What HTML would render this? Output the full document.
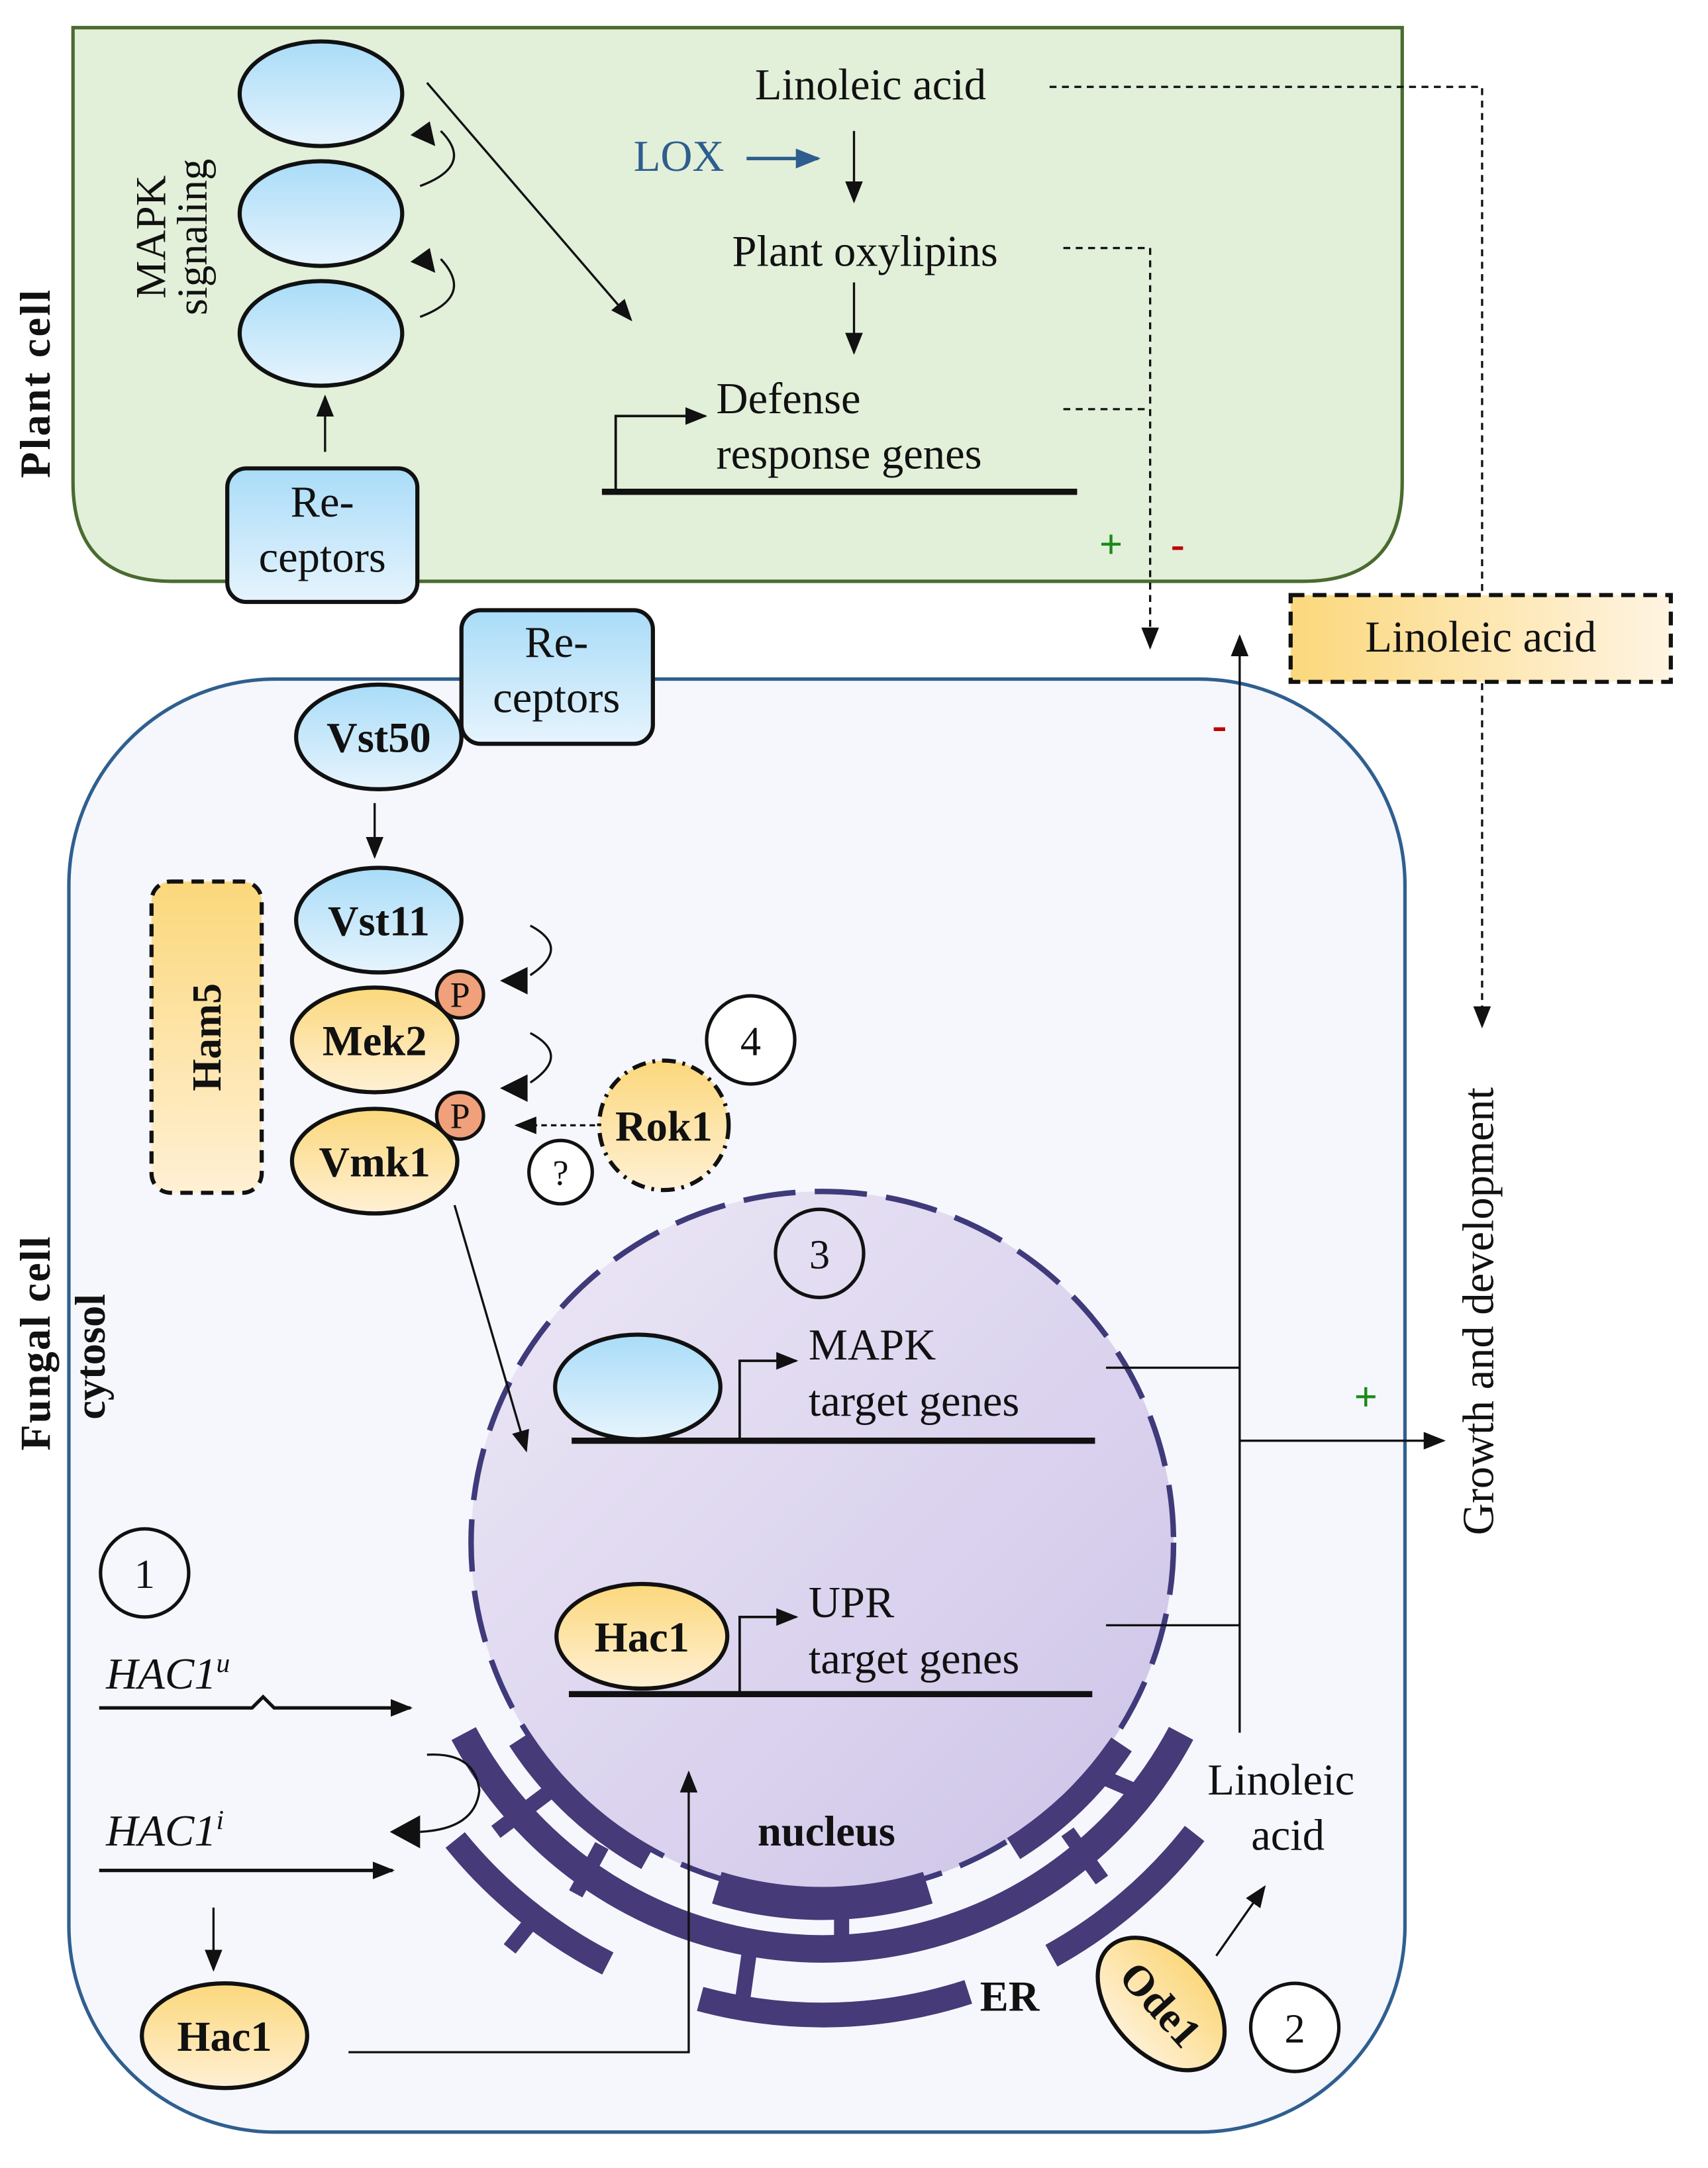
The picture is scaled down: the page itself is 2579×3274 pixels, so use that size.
<!DOCTYPE html>
<html><head><meta charset="utf-8"><style>
html,body{margin:0;padding:0;background:#fff;}
svg{display:block;}
text{font-family:"Liberation Serif",serif;fill:#111;}
.b{font-weight:bold;}
</style></head><body>
<svg width="2579" height="3274" viewBox="0 0 1240 1574" xmlns="http://www.w3.org/2000/svg">
<defs>
<linearGradient id="bl" x1="0" y1="0" x2="0" y2="1"><stop offset="0" stop-color="#a9dcf8"/><stop offset="1" stop-color="#e6f4fd"/></linearGradient>
<linearGradient id="or" x1="0" y1="0" x2="0" y2="1"><stop offset="0" stop-color="#fbd87c"/><stop offset="1" stop-color="#fff0d4"/></linearGradient>
<linearGradient id="orh" x1="0" y1="0" x2="1" y2="0"><stop offset="0" stop-color="#fbd87c"/><stop offset="1" stop-color="#fff4e2"/></linearGradient>
<linearGradient id="nu" x1="0" y1="0" x2="1" y2="1"><stop offset="0" stop-color="#ede8f6"/><stop offset="1" stop-color="#cdc3e8"/></linearGradient>
<marker id="ar2" viewBox="0 0 10 10" refX="9" refY="5" markerWidth="16" markerHeight="16" orient="auto" markerUnits="userSpaceOnUse"><path d="M0,1 L10,5 L0,9z" fill="#111"/></marker>
<marker id="arb" viewBox="0 0 10 10" refX="9" refY="5" markerWidth="18" markerHeight="18" orient="auto" markerUnits="userSpaceOnUse"><path d="M0,1 L10,5 L0,9z" fill="#2e5e8e"/></marker>
</defs>

<path d="M53,20 L1018,20 L1018,350 Q1018,422 946,422 L125,422 Q53,422 53,350 Z" fill="#e2efd9" stroke="#4a6b30" stroke-width="2.5"/>
<text class="b" font-size="31" transform="translate(36,278) rotate(-90)" text-anchor="middle" letter-spacing="1.5">Plant cell</text>
<text font-size="31" transform="translate(120,172) rotate(-90)" text-anchor="middle">MAPK</text>
<text font-size="31" transform="translate(150,172) rotate(-90)" text-anchor="middle">signaling</text>
<g stroke="#111" stroke-width="3" fill="url(#bl)">
<ellipse cx="233" cy="68" rx="59" ry="38"/>
<ellipse cx="233" cy="155" rx="59" ry="38"/>
<ellipse cx="233" cy="242" rx="59" ry="38"/>
</g>
<g fill="none" stroke="#111" stroke-width="1.6">
<path d="M305,135 Q345,120 320,95" /><path d="M305,230 Q345,215 320,188"/>
<line x1="310" y1="60" x2="458" y2="232" marker-end="url(#ar2)"/>
<line x1="236" y1="328" x2="236" y2="288" marker-end="url(#ar2)"/>
<line x1="620" y1="95" x2="620" y2="146" marker-end="url(#ar2)"/>
<line x1="620" y1="205" x2="620" y2="256" marker-end="url(#ar2)"/>
</g>
<path d="M298,98 l14,-10 l4,18z" fill="#111"/><path d="M298,190 l14,-10 l4,18z" fill="#111"/>
<rect x="165" y="340" width="138" height="97" rx="14" fill="url(#bl)" stroke="#111" stroke-width="3"/>
<text font-size="32" x="234" y="375" text-anchor="middle">Re-</text>
<text font-size="32" x="234" y="415" text-anchor="middle">ceptors</text>
<text font-size="32" x="632" y="72" text-anchor="middle">Linoleic acid</text>
<text font-size="32" x="460" y="124" style="fill:#2e5e8e">LOX</text>
<line x1="542" y1="115" x2="594" y2="115" stroke="#2e5e8e" stroke-width="2.5" marker-end="url(#arb)"/>
<text font-size="32" x="628" y="193" text-anchor="middle">Plant oxylipins</text>
<text font-size="32" x="520" y="300">Defense</text>
<text font-size="32" x="520" y="340">response genes</text>
<line x1="437" y1="357" x2="782" y2="357" stroke="#111" stroke-width="4.5"/>
<path d="M447,357 L447,302 L512,302" fill="none" stroke="#111" stroke-width="1.8" marker-end="url(#ar2)"/>
<g fill="none" stroke="#111" stroke-width="1.6" stroke-dasharray="5,4">
<path d="M762,63 L1076,63 L1076,745" marker-end="url(#ar2)"/>
<path d="M772,180 L835,180 L835,470" marker-end="url(#ar2)"/>
<path d="M772,297 L835,297"/>
</g>
<text font-size="30" x="798" y="405" style="fill:#1a8a1a" class="b">+</text>
<text font-size="30" x="850" y="405" style="fill:#c00000" class="b">-</text>

<rect x="937" y="432" width="276" height="63" fill="url(#orh)" stroke="#111" stroke-width="3" stroke-dasharray="10,6"/>
<text font-size="32" x="1075" y="473" text-anchor="middle">Linoleic acid</text>

<rect x="50" y="493" width="970" height="1055" rx="150" fill="#f5f7fc" stroke="#2f5f8f" stroke-width="2.5"/>
<text class="b" font-size="31" transform="translate(36,975) rotate(-90)" text-anchor="middle" letter-spacing="1">Fungal cell</text>
<text class="b" font-size="31" transform="translate(76,985) rotate(-90)" text-anchor="middle">cytosol</text>
<text font-size="32" x="880" y="537" style="fill:#c00000" class="b">-</text>

<rect x="335" y="443" width="139" height="97" rx="14" fill="url(#bl)" stroke="#111" stroke-width="3"/>
<text font-size="32" x="404" y="477" text-anchor="middle">Re-</text>
<text font-size="32" x="404" y="517" text-anchor="middle">ceptors</text>

<rect x="110" y="640" width="80" height="226" rx="14" fill="url(#or)" stroke="#111" stroke-width="3" stroke-dasharray="9,6"/>
<text class="b" font-size="30" transform="translate(160,753) rotate(-90)" text-anchor="middle">Ham5</text>

<ellipse cx="275" cy="535" rx="60" ry="38" fill="url(#bl)" stroke="#111" stroke-width="3"/>
<text class="b" font-size="31" x="275" y="546" text-anchor="middle">Vst50</text>
<line x1="272" y1="583" x2="272" y2="622" stroke="#111" stroke-width="1.6" marker-end="url(#ar2)"/>
<ellipse cx="275" cy="668" rx="60" ry="38" fill="url(#bl)" stroke="#111" stroke-width="3"/>
<text class="b" font-size="31" x="275" y="679" text-anchor="middle">Vst11</text>
<ellipse cx="272" cy="755" rx="60" ry="38" fill="url(#or)" stroke="#111" stroke-width="3"/>
<text class="b" font-size="31" x="272" y="766" text-anchor="middle">Mek2</text>
<ellipse cx="272" cy="843" rx="60" ry="38" fill="url(#or)" stroke="#111" stroke-width="3"/>
<text class="b" font-size="31" x="272" y="854" text-anchor="middle">Vmk1</text>
<circle cx="334" cy="722" r="17" fill="#f0a07a" stroke="#111" stroke-width="2.5"/>
<text font-size="26" x="334" y="731" text-anchor="middle">P</text>
<circle cx="334" cy="810" r="17" fill="#f0a07a" stroke="#111" stroke-width="2.5"/>
<text font-size="26" x="334" y="819" text-anchor="middle">P</text>
<path d="M385,672 Q415,688 385,708" fill="none" stroke="#111" stroke-width="1.6"/>
<path d="M363,712 l20,-10 l0,20z" fill="#111"/>
<path d="M385,750 Q415,766 385,786" fill="none" stroke="#111" stroke-width="1.6"/>
<path d="M363,790 l20,-10 l0,20z" fill="#111"/>
<line x1="432" y1="817" x2="375" y2="817" stroke="#111" stroke-width="1.6" stroke-dasharray="4,3" marker-end="url(#ar2)"/>
<circle cx="482" cy="817" r="47" fill="url(#or)" stroke="#111" stroke-width="3" stroke-dasharray="10,5,2,5"/>
<text class="b" font-size="31" x="482" y="828" text-anchor="middle">Rok1</text>
<circle cx="545" cy="755" r="32" fill="#fff" stroke="#111" stroke-width="2.5"/>
<text font-size="30" x="545" y="766" text-anchor="middle">4</text>
<circle cx="407" cy="851" r="23" fill="#fff" stroke="#111" stroke-width="2.5"/>
<text font-size="26" x="407" y="860" text-anchor="middle">?</text>

<circle cx="597" cy="1120" r="255" fill="url(#nu)" stroke="#3f3a7a" stroke-width="4" stroke-dasharray="38,14"/>
<circle cx="595" cy="910" r="32" fill="none" stroke="#111" stroke-width="2.5"/>
<text font-size="30" x="595" y="921" text-anchor="middle">3</text>
<line x1="330" y1="875" x2="382" y2="1053" stroke="#111" stroke-width="1.6" marker-end="url(#ar2)"/>

<g fill="none" stroke="#463a78">
<circle cx="597" cy="1120" r="295" stroke-width="20" pathLength="360" stroke-dasharray="124 360" transform="rotate(28 597 1120)"/>
<circle cx="597" cy="1120" r="343" stroke-width="18" pathLength="360" stroke-dasharray="23 360" transform="rotate(38 597 1120)"/>
<circle cx="597" cy="1120" r="343" stroke-width="18" pathLength="360" stroke-dasharray="33 360" transform="rotate(72 597 1120)"/>
<circle cx="597" cy="1120" r="343" stroke-width="18" pathLength="360" stroke-dasharray="24 360" transform="rotate(117 597 1120)"/>
<circle cx="597" cy="1120" r="262" stroke-width="18" pathLength="360" stroke-dasharray="28 360" transform="rotate(119 597 1120)"/>
<circle cx="597" cy="1120" r="262" stroke-width="24" pathLength="360" stroke-dasharray="34 360" transform="rotate(73 597 1120)"/>
<circle cx="597" cy="1120" r="262" stroke-width="18" pathLength="360" stroke-dasharray="24 360" transform="rotate(34 597 1120)"/>
</g>
<g stroke="#463a78" stroke-width="11">
<line x1="611" y1="1380" x2="611" y2="1415"/>
<line x1="545" y1="1410" x2="538" y2="1460"/>
<line x1="437" y1="1340" x2="418" y2="1375"/>
<line x1="400" y1="1300" x2="360" y2="1330"/>
<line x1="390" y1="1390" x2="370" y2="1415"/>
<line x1="775" y1="1330" x2="800" y2="1365"/>
<line x1="800" y1="1290" x2="835" y2="1305"/>
</g>
<text class="b" font-size="31" x="600" y="1340" text-anchor="middle">nucleus</text>
<text class="b" font-size="31" x="733" y="1460" text-anchor="middle">ER</text>

<ellipse cx="463" cy="1007" rx="60" ry="38" fill="url(#bl)" stroke="#111" stroke-width="3"/>
<line x1="415" y1="1046" x2="795" y2="1046" stroke="#111" stroke-width="4.5"/>
<path d="M537,1046 L537,988 L578,988" fill="none" stroke="#111" stroke-width="1.8" marker-end="url(#ar2)"/>
<text font-size="32" x="587" y="987">MAPK</text>
<text font-size="32" x="587" y="1028">target genes</text>
<ellipse cx="466" cy="1188" rx="62" ry="38" fill="url(#or)" stroke="#111" stroke-width="3"/>
<text class="b" font-size="31" x="466" y="1199" text-anchor="middle">Hac1</text>
<line x1="413" y1="1230" x2="793" y2="1230" stroke="#111" stroke-width="4.5"/>
<path d="M537,1230 L537,1174 L578,1174" fill="none" stroke="#111" stroke-width="1.8" marker-end="url(#ar2)"/>
<text font-size="32" x="587" y="1174">UPR</text>
<text font-size="32" x="587" y="1215">target genes</text>

<g fill="none" stroke="#111" stroke-width="1.6">
<path d="M803,993 L900,993"/><path d="M803,1180 L900,1180"/>
<line x1="900" y1="1258" x2="900" y2="462" marker-end="url(#ar2)"/>
<line x1="900" y1="1046" x2="1048" y2="1046" marker-end="url(#ar2)"/>
</g>
<text font-size="30" x="983" y="1024" style="fill:#1a8a1a" class="b">+</text>
<text font-size="32" transform="translate(1084,952) rotate(-90)" text-anchor="middle">Growth and development</text>

<text font-size="32" x="930" y="1303" text-anchor="middle">Linoleic</text>
<text font-size="32" x="935" y="1343" text-anchor="middle">acid</text>
<line x1="883" y1="1420" x2="918" y2="1370" stroke="#111" stroke-width="1.6" marker-end="url(#ar2)"/>
<g transform="translate(843,1455) rotate(48)">
<ellipse cx="0" cy="0" rx="56" ry="36" fill="url(#or)" stroke="#111" stroke-width="3"/>
<text class="b" font-size="31" x="0" y="11" text-anchor="middle">Ode1</text>
</g>
<circle cx="940" cy="1472" r="32" fill="#fff" stroke="#111" stroke-width="2.5"/>
<text font-size="30" x="940" y="1483" text-anchor="middle">2</text>

<circle cx="105" cy="1142" r="32" fill="none" stroke="#111" stroke-width="2.5"/>
<text font-size="30" x="105" y="1153" text-anchor="middle">1</text>
<text font-size="32" x="77" y="1226" font-style="italic">HAC1<tspan font-size="20" dy="-12">u</tspan></text>
<path d="M72,1240 L183,1240 L191,1232 L199,1240 L298,1240" fill="none" stroke="#111" stroke-width="2.5" marker-end="url(#ar2)"/>
<text font-size="32" x="77" y="1340" font-style="italic">HAC1<tspan font-size="20" dy="-12">i</tspan></text>
<line x1="72" y1="1358" x2="285" y2="1358" stroke="#111" stroke-width="2.5" marker-end="url(#ar2)"/>
<path d="M310,1274 Q345,1272 348,1300 Q345,1328 305,1330" fill="none" stroke="#111" stroke-width="1.6"/>
<path d="M283,1330 l22,-12 l0,24z" fill="#111"/>
<line x1="155" y1="1385" x2="155" y2="1430" stroke="#111" stroke-width="1.6" marker-end="url(#ar2)"/>
<ellipse cx="163" cy="1478" rx="60" ry="38" fill="url(#or)" stroke="#111" stroke-width="3"/>
<text class="b" font-size="31" x="163" y="1489" text-anchor="middle">Hac1</text>
<path d="M253,1490 L500,1490 L500,1287" fill="none" stroke="#111" stroke-width="1.6" marker-end="url(#ar2)"/>
</svg>
</body></html>
